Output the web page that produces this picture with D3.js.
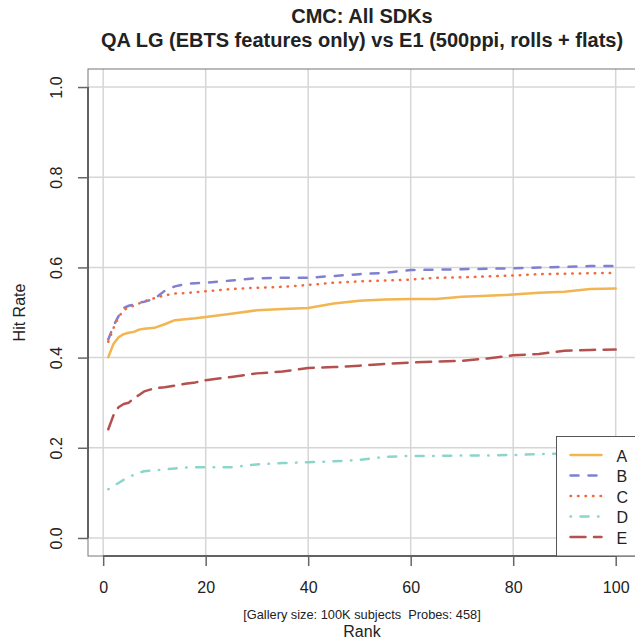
<!DOCTYPE html>
<html>
<head>
<meta charset="utf-8">
<script src="https://cdn.jsdelivr.net/npm/d3@7"></script>
<style>
  body { margin: 0; background: #fff; }
  text { font-family: "Liberation Sans", Arial, sans-serif; fill: #222; }
</style>
</head>
<body>
<svg id="chart"></svg>
<script>
let width = 635;
let height = 643;

// ranks sampled off the picture, and the hit rate of each SDK at those ranks
let ranks = [1,2,3,4,5,6,7,8,10,12,14,16,18,20,25,30,35,40,45,50,55,60,65,70,75,80,85,90,95,100];
let sdkA = [0.401,0.43,0.445,0.452,0.455,0.457,0.462,0.464,0.466,0.474,0.483,0.485,0.487,0.49,0.497,0.505,0.508,0.51,0.52,0.526,0.529,0.53,0.53,0.535,0.537,0.54,0.544,0.546,0.552,0.553];
let sdkB = [0.44,0.47,0.492,0.51,0.515,0.518,0.522,0.524,0.53,0.548,0.558,0.563,0.565,0.566,0.571,0.576,0.577,0.577,0.581,0.585,0.588,0.594,0.595,0.596,0.597,0.598,0.6,0.601,0.603,0.603];
let sdkC = [0.435,0.465,0.49,0.505,0.512,0.515,0.52,0.525,0.532,0.538,0.542,0.543,0.545,0.547,0.552,0.555,0.557,0.561,0.566,0.569,0.571,0.573,0.577,0.578,0.58,0.582,0.585,0.586,0.587,0.588];
let sdkD = [0.108,0.115,0.122,0.129,0.135,0.14,0.145,0.148,0.15,0.152,0.154,0.156,0.157,0.157,0.157,0.163,0.166,0.168,0.17,0.173,0.18,0.182,0.182,0.183,0.183,0.184,0.186,0.187,0.188,0.188];
let sdkE = [0.241,0.272,0.29,0.297,0.3,0.31,0.317,0.325,0.332,0.334,0.338,0.342,0.345,0.35,0.357,0.365,0.369,0.377,0.379,0.382,0.386,0.389,0.391,0.393,0.398,0.405,0.408,0.415,0.417,0.418];

let seriesNames = ["A", "B", "C", "D", "E"];
let xTicks = [0, 20, 40, 60, 80, 100];
let yTicks = [0, 0.2, 0.4, 0.6, 0.8, 1.0];

let colors = ["#f2b550", "#8080d0", "#f4693c", "#8bd5cc", "#b4514f"];
// round caps, so the dash lengths are a bit shorter than what shows
let dashes = ["none", "8,10", "0.5,7", "0.5,9.5,8,9.5", "15,8.5"];

let plot = { left: 88, right: 636, top: 69, bottom: 556 };

let svg = d3.select("#chart")
    .attr("width", width)
    .attr("height", height);

// R-style 4% padding around the data range
let x = d3.scaleLinear()
    .domain([1 - 0.04 * 99, 100 + 0.04 * 99])
    .range([plot.left, plot.right]);

let y = d3.scaleLinear()
    .domain([-0.04, 1.04])
    .range([plot.bottom, plot.top]);

// grid
svg.append("g")
    .selectAll("line")
    .data(xTicks)
    .enter().append("line")
    .attr("x1", d => x(d)).attr("x2", d => x(d))
    .attr("y1", plot.top).attr("y2", plot.bottom)
    .attr("stroke", "#d6d6d6")
    .attr("stroke-width", 1.5);

svg.append("g")
    .selectAll("line")
    .data(yTicks)
    .enter().append("line")
    .attr("x1", plot.left).attr("x2", plot.right)
    .attr("y1", d => y(d)).attr("y2", d => y(d))
    .attr("stroke", "#d6d6d6")
    .attr("stroke-width", 1.5);

// curves
let allSeries = [sdkA, sdkB, sdkC, sdkD, sdkE];
let line = d3.line()
    .x((d, i) => x(ranks[i]))
    .y(d => y(d));

svg.append("g")
    .selectAll("path")
    .data(allSeries)
    .enter().append("path")
    .attr("d", d => line(d))
    .attr("fill", "none")
    .attr("stroke", (d, i) => colors[i])
    .attr("stroke-width", 2.5)
    .attr("stroke-linecap", "round")
    .attr("stroke-linejoin", "round")
    .attr("stroke-dasharray", (d, i) => dashes[i]);

// box
svg.append("rect")
    .attr("x", plot.left)
    .attr("y", plot.top)
    .attr("width", plot.right - plot.left)
    .attr("height", plot.bottom - plot.top)
    .attr("fill", "none")
    .attr("stroke", "#777")
    .attr("stroke-width", 1);

// axes
let xAxis = svg.append("g")
    .attr("transform", "translate(0," + plot.bottom + ")")
    .call(d3.axisBottom(x).tickValues(xTicks).tickSize(10).tickSizeOuter(0).tickFormat(d3.format("d")));
xAxis.select(".domain")
    .attr("d", "M" + x(0) + ",0H" + x(100))
    .attr("stroke", "#444")
    .attr("stroke-width", 1.5);
xAxis.selectAll("line").attr("stroke", "#666").attr("stroke-width", 1.5);
xAxis.selectAll("text")
    .attr("y", 26)
    .attr("font-size", 16)
    .attr("font-family", "Liberation Sans, Arial, sans-serif")
    .attr("fill", "#222");

let yAxis = svg.append("g")
    .attr("transform", "translate(" + plot.left + ",0)")
    .call(d3.axisLeft(y).tickValues(yTicks).tickSize(10).tickSizeOuter(0).tickFormat(d3.format(".1f")));
yAxis.select(".domain")
    .attr("d", "M0," + y(0) + "V" + y(1))
    .attr("stroke", "#444")
    .attr("stroke-width", 1.5);
yAxis.selectAll("line").attr("stroke", "#666").attr("stroke-width", 1.5);
yAxis.selectAll("text")
    .attr("font-size", 16)
    .attr("font-family", "Liberation Sans, Arial, sans-serif")
    .attr("fill", "#222")
    .attr("x", null)
    .attr("dy", null)
    .attr("text-anchor", "middle")
    .attr("transform", "translate(-26,0) rotate(-90)");

// legend
let legend = svg.append("g")
    .attr("transform", "translate(556.5,436.5)");

legend.append("rect")
    .attr("width", 90)
    .attr("height", plot.bottom - 436.5)
    .attr("fill", "#fff")
    .attr("stroke", "#555")
    .attr("stroke-width", 1);

let legendItems = legend.selectAll(".leg")
    .data(seriesNames)
    .enter().append("g")
    .attr("class", "leg")
    .attr("transform", (d, i) => "translate(0," + (18.5 + i * 20.5) + ")");

legendItems.append("line")
    .attr("x1", 14).attr("x2", 45)
    .attr("stroke", (d, i) => colors[i])
    .attr("stroke-width", 2.5)
    .attr("stroke-linecap", "round")
    .attr("stroke-dasharray", (d, i) => dashes[i]);

legendItems.append("text")
    .text(d => d)
    .attr("x", 60)
    .attr("y", 6.5)
    .attr("font-size", 16);

// titles
svg.append("text")
    .text("CMC: All SDKs")
    .attr("x", (plot.left + plot.right) / 2)
    .attr("y", 23)
    .attr("text-anchor", "middle")
    .attr("font-size", 20)
    .attr("font-weight", "bold");

svg.append("text")
    .text("QA LG (EBTS features only) vs E1 (500ppi, rolls + flats)")
    .attr("x", (plot.left + plot.right) / 2)
    .attr("y", 47)
    .attr("text-anchor", "middle")
    .attr("font-size", 20)
    .attr("font-weight", "bold");

svg.append("text")
    .text("[Gallery size: 100K subjects  Probes: 458]")
    .attr("x", (plot.left + plot.right) / 2)
    .attr("y", 618.5)
    .attr("text-anchor", "middle")
    .attr("font-size", 12.8)
    .style("white-space", "pre");

svg.append("text")
    .text("Rank")
    .attr("x", (plot.left + plot.right) / 2)
    .attr("y", 636.5)
    .attr("text-anchor", "middle")
    .attr("font-size", 16);

svg.append("text")
    .text("Hit Rate")
    .attr("transform", "translate(24.5," + (plot.top + plot.bottom) / 2 + ") rotate(-90)")
    .attr("text-anchor", "middle")
    .attr("font-size", 16);
</script>
</body>
</html>
